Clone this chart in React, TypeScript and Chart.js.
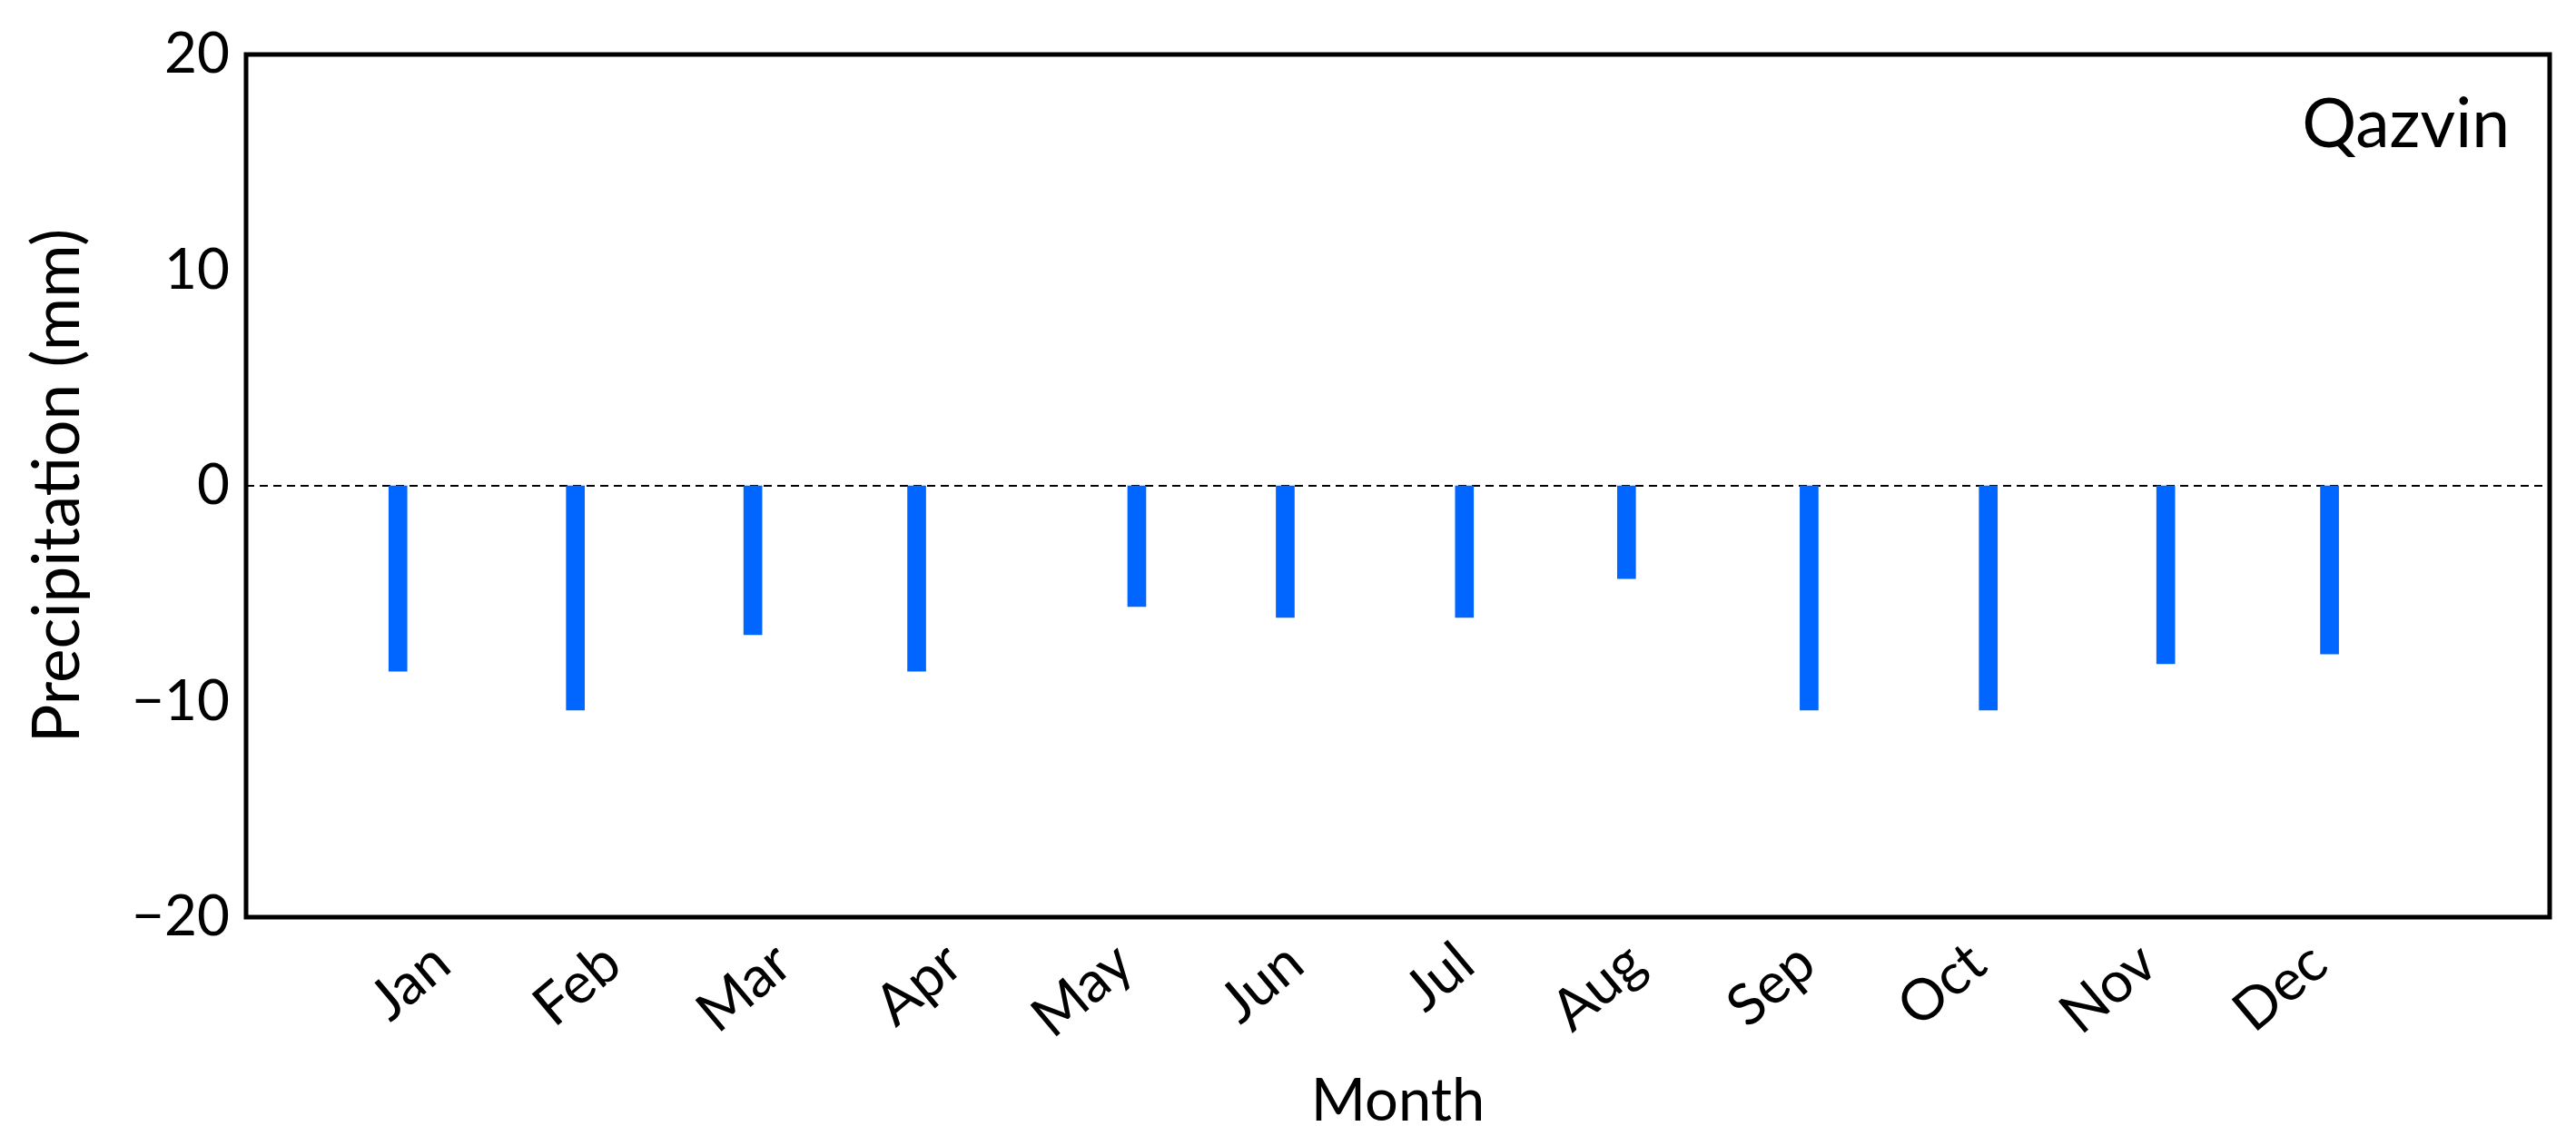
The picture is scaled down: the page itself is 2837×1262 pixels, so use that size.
import React, { useEffect, useRef } from "react";
import { Chart, registerables } from "chart.js";

Chart.register(...registerables);

const months = ["Jan", "Feb", "Mar", "Apr", "May", "Jun", "Jul", "Aug", "Sep", "Oct", "Nov", "Dec"];
const monthTickValues = [1, 2, 3, 4, 5, 6, 7, 8, 9, 10, 11, 12];
const barPositions = [0.89, 1.93, 2.97, 3.93, 5.22, 6.09, 7.14, 8.09, 9.16, 10.21, 11.25, 12.21];
const precipitation = [-8.6, -10.4, -6.9, -8.6, -5.6, -6.1, -6.1, -4.3, -10.4, -10.4, -8.25, -7.8];
const yTicks = [-20, -10, 0, 10, 20];
const xRange = [0, 13.5];
const stationName = "Qazvin";

const FONT = "Lato, 'Open Sans', sans-serif";

export default function App() {
  const ref = useRef<HTMLCanvasElement | null>(null);

  useEffect(() => {
    if (!ref.current) return;
    const framePlugin = {
      id: "frameAndLabel",
      afterDraw(chart: any) {
        const { ctx, chartArea } = chart;
        ctx.save();
        ctx.strokeStyle = "#000";
        ctx.lineWidth = 5;
        ctx.strokeRect(chartArea.left, chartArea.top, chartArea.right - chartArea.left, chartArea.bottom - chartArea.top);
        ctx.fillStyle = "#000";
        ctx.font = `75px ${FONT}`;
        ctx.textAlign = "right";
        ctx.textBaseline = "alphabetic";
        ctx.fillText(stationName, chartArea.right - 44, chartArea.top + 102);
        ctx.restore();
      },
    };

    const chart = new Chart(ref.current, {
      type: "bar",
      data: {
        datasets: [
          {
            type: "bar",
            data: barPositions.map((x, i) => ({ x, y: precipitation[i] })),
            backgroundColor: "#0066FF",
            borderWidth: 0,
            barThickness: 20,
          } as any,
          {
            type: "line",
            data: [
              { x: xRange[0], y: 0 },
              { x: xRange[1], y: 0 },
            ],
            borderColor: "#000",
            borderWidth: 2,
            borderDash: [9, 6],
            pointRadius: 0,
            fill: false,
          } as any,
        ],
      },
      options: {
        animation: false,
        responsive: false,
        layout: { padding: { left: 0, top: 60, right: 29, bottom: 0 } },
        plugins: { legend: { display: false }, tooltip: { enabled: false } },
        scales: {
          x: {
            type: "linear",
            offset: false,
            min: xRange[0],
            max: xRange[1],
            grid: { display: false, drawTicks: false, offset: false },
            border: { display: false },
            afterFit: (s: any) => {
              s.height = 252;
            },
            afterBuildTicks: (s: any) => {
              s.ticks = monthTickValues.map((v) => ({ value: v }));
            },
            ticks: {
              autoSkip: false,
              minRotation: 40,
              maxRotation: 40,
              padding: 13,
              labelOffset: 28,
              color: "#000",
              font: { family: FONT, size: 63 },
              callback: (v: any) => {
                const idx = monthTickValues.indexOf(Number(v));
                return idx >= 0 ? months[idx] : "";
              },
            },
            title: {
              display: true,
              text: "Month",
              color: "#000",
              font: { family: FONT, size: 65 },
              padding: { top: 10, bottom: 10 },
            },
          },
          y: {
            min: yTicks[0],
            max: yTicks[yTicks.length - 1],
            grid: { display: false, drawTicks: false },
            border: { display: false },
            afterFit: (s: any) => {
              s.width = 271;
            },
            afterBuildTicks: (s: any) => {
              s.ticks = yTicks.map((v) => ({ value: v }));
            },
            ticks: {
              padding: 18,
              color: "#000",
              font: { family: FONT, size: 62 },
              callback: (v: any) => (Number(v) < 0 ? "\u2212" + Math.abs(Number(v)) : String(v)),
            },
            title: {
              display: true,
              text: "Precipitation (mm)",
              color: "#000",
              font: { family: FONT, size: 71 },
              padding: { top: 22, bottom: 0 },
            },
          },
        },
      },
      plugins: [framePlugin],
    } as any);
    return () => chart.destroy();
  }, []);

  return (
    <div style={{ position: "fixed", left: 0, top: 0, width: 2837, height: 1262, background: "#fff" }}>
      <canvas ref={ref} width={2837} height={1262} style={{ display: "block" }} />
    </div>
  );
}
